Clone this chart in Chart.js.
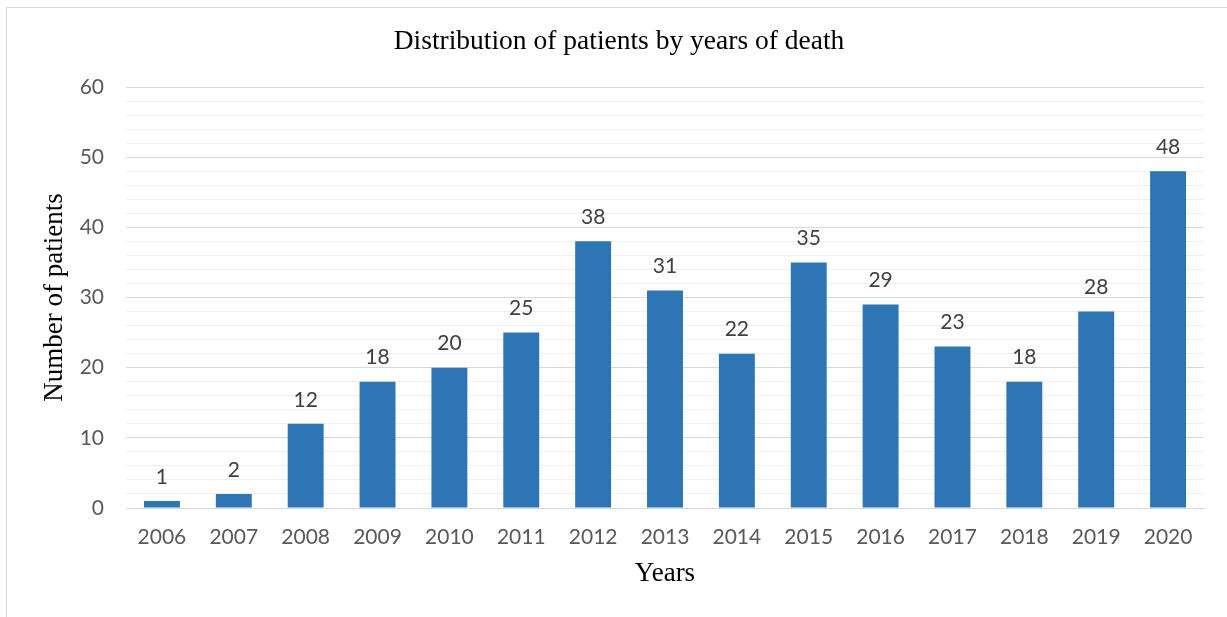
<!DOCTYPE html>
<html>
<head>
<meta charset="utf-8">
<script src="https://cdn.jsdelivr.net/npm/chart.js@4.4.1/dist/chart.umd.min.js"></script>
<style>
  html, body { margin: 0; padding: 0; background: #fff; }
  #frame { position: absolute; left: 6px; top: 7px; right: -10px; bottom: -10px; border-left: 1px solid #d9d9d9; border-top: 1px solid #d9d9d9; }
  #wrap { position: absolute; left: 0; top: 0; width: 1227px; height: 617px; }
</style>
</head>
<body>
<div id="frame"></div>
<div id="wrap"><canvas id="c" width="1227" height="617"></canvas></div>
<script>
const years = ["2006","2007","2008","2009","2010","2011","2012","2013","2014","2015","2016","2017","2018","2019","2020"];
const patients = [1, 2, 12, 18, 20, 25, 38, 31, 22, 35, 29, 23, 18, 28, 48];
const yMin = 0, yMax = 60, yStep = 2, yMajor = 10;

const tickFont = { family: "Lato, 'Open Sans', sans-serif", size: 21 };
const serif = "'Liberation Serif', 'Times New Roman', serif";

const barLabels = {
  id: 'barLabels',
  afterDatasetsDraw(chart) {
    const ctx = chart.ctx;
    const meta = chart.getDatasetMeta(0);
    ctx.save();
    ctx.font = `${tickFont.size}px ${tickFont.family}`;
    ctx.fillStyle = '#404040';
    ctx.textAlign = 'center';
    ctx.textBaseline = 'middle';
    meta.data.forEach((bar, i) => {
      ctx.fillText(String(patients[i]), bar.x, bar.y - 24);
    });
    ctx.restore();
  }
};

new Chart(document.getElementById('c'), {
  type: 'bar',
  data: {
    labels: years,
    datasets: [{
      data: patients,
      backgroundColor: '#2E75B6',
      borderWidth: 0,
      barPercentage: 0.5,
      categoryPercentage: 1.0
    }]
  },
  options: {
    responsive: false,
    animation: false,
    devicePixelRatio: 1,
    layout: { padding: { left: 34, right: 23, top: 0, bottom: 0 } },
    plugins: {
      legend: { display: false },
      tooltip: { enabled: false },
      title: {
        display: true,
        text: 'Distribution of patients by years of death',
        color: '#000',
        font: { family: serif, size: 27.5, weight: 'normal' },
        padding: { top: 25.5, bottom: 28.5 }
      }
    },
    scales: {
      x: {
        grid: { display: false, drawTicks: false },
        border: { display: true, color: '#d9d9d9', width: 1 },
        ticks: { color: '#595959', font: tickFont, padding: 17, maxRotation: 0, autoSkip: false },
        title: {
          display: true, text: 'Years', color: '#000',
          font: { family: serif, size: 27, weight: 'normal' },
          padding: { top: 0, bottom: 26.8 }
        },
        afterFit(scale) { scale.height = 617 - 508; }
      },
      y: {
        min: yMin, max: yMax,
        grid: {
          drawTicks: false,
          color: (c) => (c.tick && c.tick.value % yMajor === 0) ? '#d9d9d9' : '#efefef',
          lineWidth: 1
        },
        border: { display: false },
        ticks: {
          stepSize: yStep, autoSkip: false, color: '#595959', font: tickFont, padding: 22,
          callback: (v) => (v % yMajor === 0 ? String(v) : '')
        },
        title: {
          display: true, text: 'Number of patients', color: '#000',
          font: { family: serif, size: 27, weight: 'normal' },
          padding: { top: 4.8, bottom: 0 }
        },
        afterFit(scale) { scale.width = 92; }
      }
    }
  },
  plugins: [barLabels]
});
</script>
</body>
</html>
